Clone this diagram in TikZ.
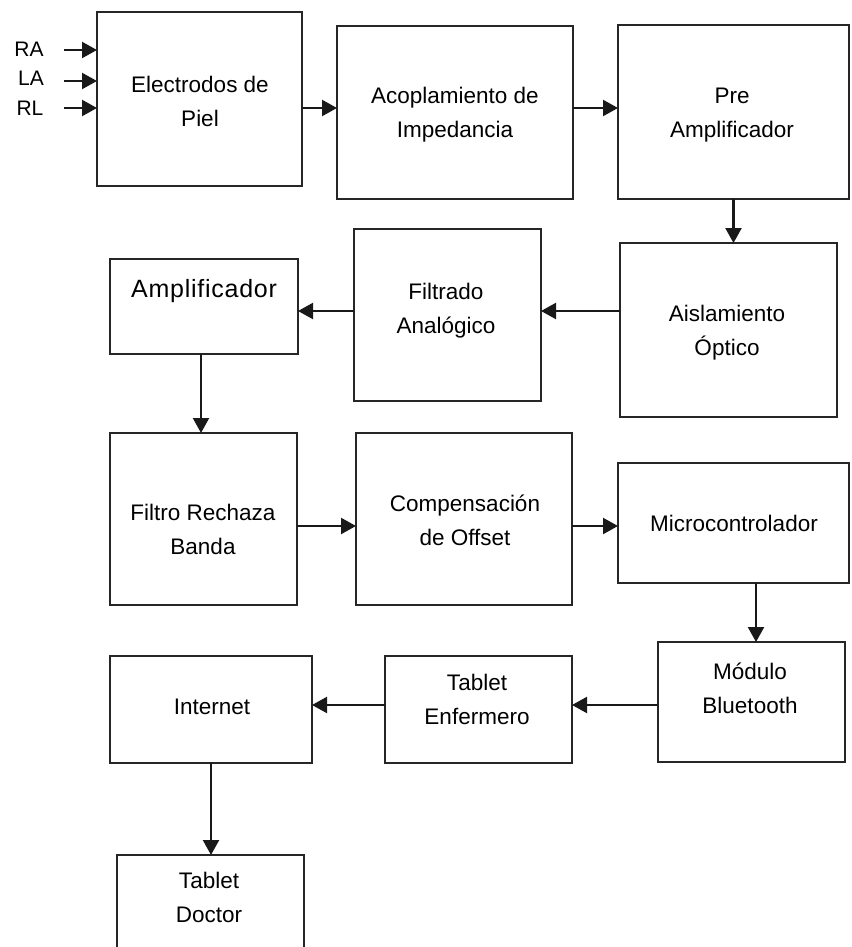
\documentclass[tikz,border=0pt]{standalone}
\usepackage{fontspec}
\setmainfont{Liberation Sans}
\usetikzlibrary{arrows.meta}
\begin{document}
\begin{tikzpicture}[x=1pt,y=-1pt,
  blk/.style={draw=black!85, line width=2.2pt, inner sep=0pt, outer sep=0pt},
  txt/.style={align=center, inner sep=0pt, font=\fontsize{22.5}{34}\selectfont},
  lbl/.style={inner sep=0pt, font=\fontsize{21}{25}\selectfont},
  arr/.style={draw=black!90, line width=2.2pt, -{Triangle[length=15pt,width=16pt]}}]
\useasboundingbox (0,0) rectangle (851,947);
\clip (0,0) rectangle (851,947);
% boxes
\node[blk, minimum width=205, minimum height=174] (elec)  at (199.5,99) {};
\node[blk, minimum width=236, minimum height=173] (acop)  at (455,112.5) {};
\node[blk, minimum width=231, minimum height=174] (pre)   at (733.5,112) {};
\node[blk, minimum width=217, minimum height=174] (aisl)  at (728.5,330) {};
\node[blk, minimum width=187, minimum height=172] (filt)  at (447.5,315) {};
\node[blk, minimum width=188, minimum height=95]  (ampl)  at (204,306.5) {};
\node[blk, minimum width=187, minimum height=172] (frb)   at (203.5,519) {};
\node[blk, minimum width=216, minimum height=172] (comp)  at (464,519) {};
\node[blk, minimum width=231, minimum height=120] (micro) at (733.5,523) {};
\node[blk, minimum width=187, minimum height=120] (bt)    at (751.5,702) {};
\node[blk, minimum width=187, minimum height=107] (tabe)  at (478.5,709.5) {};
\node[blk, minimum width=202, minimum height=107] (inet)  at (211,709.5) {};
\node[blk, minimum width=187, minimum height=110] (tabd)  at (210.5,910) {};
% texts
\node[txt] (telec)  at (200,101)   {Electrodos de\\Piel};
\node[txt] (tacop)  at (455,115)   {Acoplamiento de\\Impedancia};
\node[txt] (tpre)   at (732,115)   {Pre\\Amplificador};
\node[txt] (taisl)  at (727,333)   {Aislamiento\\Óptico};
\node[txt] (tfilt)  at (446,311)   {Filtrado\\Analógico};
\node[inner sep=0pt, font=\fontsize{25}{30}\selectfont\addfontfeature{LetterSpace=3}] (tampl) at (204,291) {Amplificador};
\node[txt] (tfrb)   at (203,529)   {Filtro Rechaza\\Banda};
\node[txt] (tcomp)  at (465,520)   {Compensación\\de Offset};
\node[txt] (tmicro) at (734,523)   {Microcontrolador};
\node[txt] (tbt)    at (750,688)   {Módulo\\Bluetooth};
\node[txt] (ttabe)  at (477,699.5) {Tablet\\Enfermero};
\node[txt] (tinet)  at (212,707)   {Internet};
\node[txt] (ttabd)  at (209,897.5) {Tablet\\Doctor};
% input labels
\node[lbl] (ra) at (29,49)  {RA};
\node[lbl] (la) at (31,78)  {LA};
\node[lbl] (rl) at (30,108) {RL};
\coordinate (raS) at (64,50);
\coordinate (laS) at (64,81);
\coordinate (rlS) at (64,108);
\draw[arr] (raS) -- (elec.west |- raS);
\draw[arr] (laS) -- (elec.west |- laS);
\draw[arr] (rlS) -- (elec.west |- rlS);
% connector levels
\coordinate (y1) at (0,108);
\coordinate (y2) at (0,311);
\coordinate (y3) at (0,526);
\coordinate (y4) at (0,705);
\coordinate (x1) at (201,0);
\coordinate (x2) at (756,0);
% connectors
\draw[arr] (elec.east |- y1) -- (acop.west |- y1);
\draw[arr] (acop.east |- y1) -- (pre.west |- y1);
\draw[arr] (pre.south) -- (pre.south |- aisl.north);
\draw[arr] (aisl.west |- y2) -- (filt.east |- y2);
\draw[arr] (filt.west |- y2) -- (ampl.east |- y2);
\draw[arr] (ampl.south -| x1) -- (frb.north -| x1);
\draw[arr] (frb.east |- y3) -- (comp.west |- y3);
\draw[arr] (comp.east |- y3) -- (micro.west |- y3);
\draw[arr] (micro.south -| x2) -- (bt.north -| x2);
\draw[arr] (bt.west |- y4) -- (tabe.east |- y4);
\draw[arr] (tabe.west |- y4) -- (inet.east |- y4);
\draw[arr] (inet.south) -- (inet.south |- tabd.north);
\end{tikzpicture}
\end{document}
